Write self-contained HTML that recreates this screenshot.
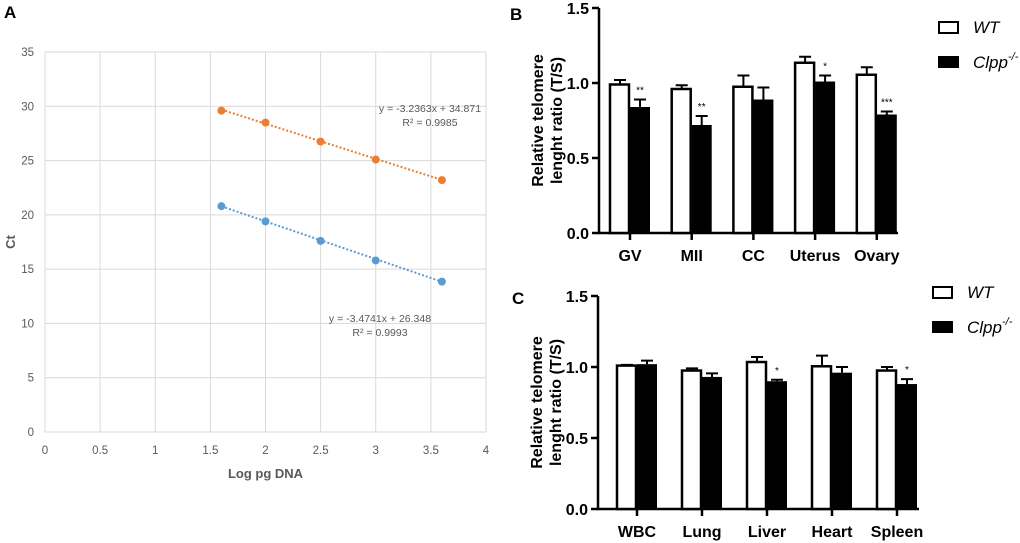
<!DOCTYPE html>
<html><head><meta charset="utf-8"><style>
html,body{margin:0;padding:0;background:#fff;}
svg{display:block;font-family:"Liberation Sans",Arial,sans-serif;}
</style></head><body>
<svg id="fig" width="1020" height="543" viewBox="0 0 1020 543" xmlns="http://www.w3.org/2000/svg">
<text x="4" y="18" font-size="17" font-weight="bold">A</text>
<text x="510" y="20" font-size="17" font-weight="bold">B</text>
<text x="512" y="304" font-size="17" font-weight="bold">C</text>
<g id="pa"></g>
<g id="pb"></g>
<g id="pc"></g>
</svg>
<script>
const NS="http://www.w3.org/2000/svg";
// Panel A data
const aXTicks=["0","0.5","1","1.5","2","2.5","3","3.5","4"];
const aYTicks=["0","5","10","15","20","25","30","35"];
const aX=[1.6,2,2.5,3,3.6];
const aOrange=[29.6,28.5,26.75,25.1,23.2];
const aBlue=[20.8,19.4,17.6,15.8,13.85];
const aOrangeFit=[-3.2363,34.871];
const aBlueFit=[-3.4741,26.348];
// Panel B data
const bCats=["GV","MII","CC","Uterus","Ovary"];
const bWT=[0.99,0.96,0.975,1.135,1.055];
const bWTErr=[0.03,0.025,0.075,0.04,0.05];
const bKO=[0.84,0.72,0.89,1.01,0.79];
const bKOErr=[0.05,0.06,0.08,0.04,0.02];
const bStars=["**","**","","*","***"];
// Panel C data
const cCats=["WBC","Lung","Liver","Heart","Spleen"];
const cWT=[1.01,0.975,1.035,1.005,0.975];
const cWTErr=[0.005,0.015,0.035,0.075,0.025];
const cKO=[1.02,0.93,0.90,0.96,0.88];
const cKOErr=[0.025,0.025,0.01,0.04,0.035];
const cStars=["","","*","","*"];
const yTicksBar=["0.0","0.5","1.0","1.5"];

function mk(p,tag,attrs,txt){const e=document.createElementNS(NS,tag);for(const k in attrs)e.setAttribute(k,attrs[k]);if(txt!==undefined)e.textContent=txt;p.appendChild(e);return e;}

// ---- Panel A
(function(){
const g=document.getElementById('pa');
const x0=45,x1=486,y0=432,y1=52;
const sx=v=>x0+(v/4)*(x1-x0), sy=v=>y0-(v/35)*(y0-y1);
aXTicks.forEach((t,i)=>{const v=parseFloat(t);
 const l=mk(g,'line',{x1:sx(v),x2:sx(v),y1:y1,y2:y0,stroke:'#d9d9d9','stroke-width':1});
 
 
 const tx=mk(g,'text',{x:sx(v),y:y0+22,'font-size':11.5,fill:'#595959','text-anchor':'middle'},t);
 
 
});
aYTicks.forEach(t=>{const v=parseFloat(t);
 const l=mk(g,'line',{x1:x0,x2:x1,y1:sy(v),y2:sy(v),stroke:'#d9d9d9','stroke-width':1});
 
 
 const tx=mk(g,'text',{x:x0-11,y:sy(v)+4,'font-size':11.5,fill:'#595959','text-anchor':'end'},t);
 
 
});
const xt=mk(g,'text',{x:sx(2),y:478,'font-size':13,'font-weight':'bold',fill:'#595959','text-anchor':'middle'},'Log pg DNA');


const yt=mk(g,'text',{x:0,y:0,'font-size':13,'font-weight':'bold',fill:'#595959','text-anchor':'middle',transform:'translate(15,'+sy(17.5)+') rotate(-90)'},'Ct');


function series(vals,fit,col,name){
 const xa=aX[0],xb=aX[aX.length-1];
 const ln=mk(g,'line',{x1:sx(xa),y1:sy(fit[0]*xa+fit[1]),x2:sx(xb),y2:sy(fit[0]*xb+fit[1]),stroke:col,'stroke-width':2,'stroke-dasharray':'2,2'});
 
 
 vals.forEach((v,i)=>{const c=mk(g,'circle',{cx:sx(aX[i]),cy:sy(v),r:4,fill:col});
  
  });
}
series(aOrange,aOrangeFit,'#ed7d31','orange-series');
series(aBlue,aBlueFit,'#5b9bd5','blue-series');
const e1=mk(g,'text',{x:430,y:112,'font-size':10.5,fill:'#595959','text-anchor':'middle'},'y = -3.2363x + 34.871');


const r1=mk(g,'text',{x:430,y:126,'font-size':10.5,fill:'#595959','text-anchor':'middle'},'R² = 0.9985');


const e2=mk(g,'text',{x:380,y:322,'font-size':10.5,fill:'#595959','text-anchor':'middle'},'y = -3.4741x + 26.348');


const r2=mk(g,'text',{x:380,y:336,'font-size':10.5,fill:'#595959','text-anchor':'middle'},'R² = 0.9993');


})();

// ---- bar panels
function barPanel(id,cats,wt,wtE,ko,koE,stars,o){
 const g=document.getElementById(id);
 const sy=v=>o.y0-(v/1.5)*(o.y0-o.y1);
 const ax=mk(g,'path',{d:`M${o.ax} ${o.y1} V${o.y0} H${o.axEnd}`,stroke:'#000','stroke-width':2.5,fill:'none'});
 
 
 yTicksBar.forEach(t=>{const v=parseFloat(t);
  const l=mk(g,'line',{x1:o.ax-7,x2:o.ax,y1:sy(v),y2:sy(v),stroke:'#000','stroke-width':2.5});
  
  
  const tx=mk(g,'text',{x:o.ax-10,y:sy(v)+6,'font-size':16,'font-weight':'bold','text-anchor':'end'},t);
  
  
 });
 const tt=mk(g,'text',{x:0,y:0,'font-size':16,'font-weight':'bold','text-anchor':'middle',transform:`translate(${o.ax-47},${sy(0.75)}) rotate(-90)`});
 
 
 mk(tt,'tspan',{x:0,dy:-9},'Relative telomere');
 mk(tt,'tspan',{x:0,dy:19},'lenght ratio (T/S)');
 const bw=20;
 cats.forEach((c,i)=>{
  const cx=o.c0+i*o.step;
  const tk=mk(g,'line',{x1:cx,x2:cx,y1:o.y0,y2:o.y0+7,stroke:'#000','stroke-width':2.5});
  
  
  const lb=mk(g,'text',{x:cx,y:o.y0+28,'font-size':16,'font-weight':'bold','text-anchor':'middle'},c);
  
  
  const w1=mk(g,'path',{d:`M${cx-bw/2} ${sy(wt[i])} V${sy(wt[i]+wtE[i])} M${cx-bw/2-6} ${sy(wt[i]+wtE[i])} H${cx-bw/2+6}`,stroke:'#000','stroke-width':2,fill:'none'});
  
  
  const b1=mk(g,'rect',{x:cx-bw,y:sy(wt[i]),width:bw-1,height:sy(0)-sy(wt[i]),fill:'#fff',stroke:'#000','stroke-width':2.5});
  
  
  const w2=mk(g,'path',{d:`M${cx+bw/2} ${sy(ko[i])} V${sy(ko[i]+koE[i])} M${cx+bw/2-6} ${sy(ko[i]+koE[i])} H${cx+bw/2+6}`,stroke:'#000','stroke-width':2,fill:'none'});
  
  
  const b2=mk(g,'rect',{x:cx,y:sy(ko[i]),width:bw,height:sy(0)-sy(ko[i]),fill:'#000'});
  
  
  if(stars[i]){const s=mk(g,'text',{x:cx+bw/2,y:sy(ko[i]+koE[i])-6,'font-size':10,'text-anchor':'middle'},stars[i]);
   
   }
 });
 const lg=mk(g,'g',{});
 
 
 const r1=mk(lg,'rect',{x:o.lx,y:o.ly,width:19,height:11,fill:'#fff',stroke:'#000','stroke-width':2});
 
 
 const t1=mk(lg,'text',{x:o.lx+34,y:o.ly+11,'font-size':17,'font-style':'italic'},'WT');
 
 
 const r2=mk(lg,'rect',{x:o.lx-1,y:o.ly+34,width:21,height:12,fill:'#000'});
 
 
 const t2=mk(lg,'text',{x:o.lx+34,y:o.ly+46,'font-size':17,'font-style':'italic'},'Clpp');
 
 
 mk(t2,'tspan',{dy:-8,'font-size':11},'-/-');
}
barPanel('pb',bCats,bWT,bWTErr,bKO,bKOErr,bStars,{ax:599,axEnd:898,y0:233,y1:8,c0:630,step:61.7,lx:939,ly:22});
barPanel('pc',cCats,cWT,cWTErr,cKO,cKOErr,cStars,{ax:598,axEnd:919,y0:509,y1:296,c0:637,step:65,lx:933,ly:287});
</script>
</body></html>
